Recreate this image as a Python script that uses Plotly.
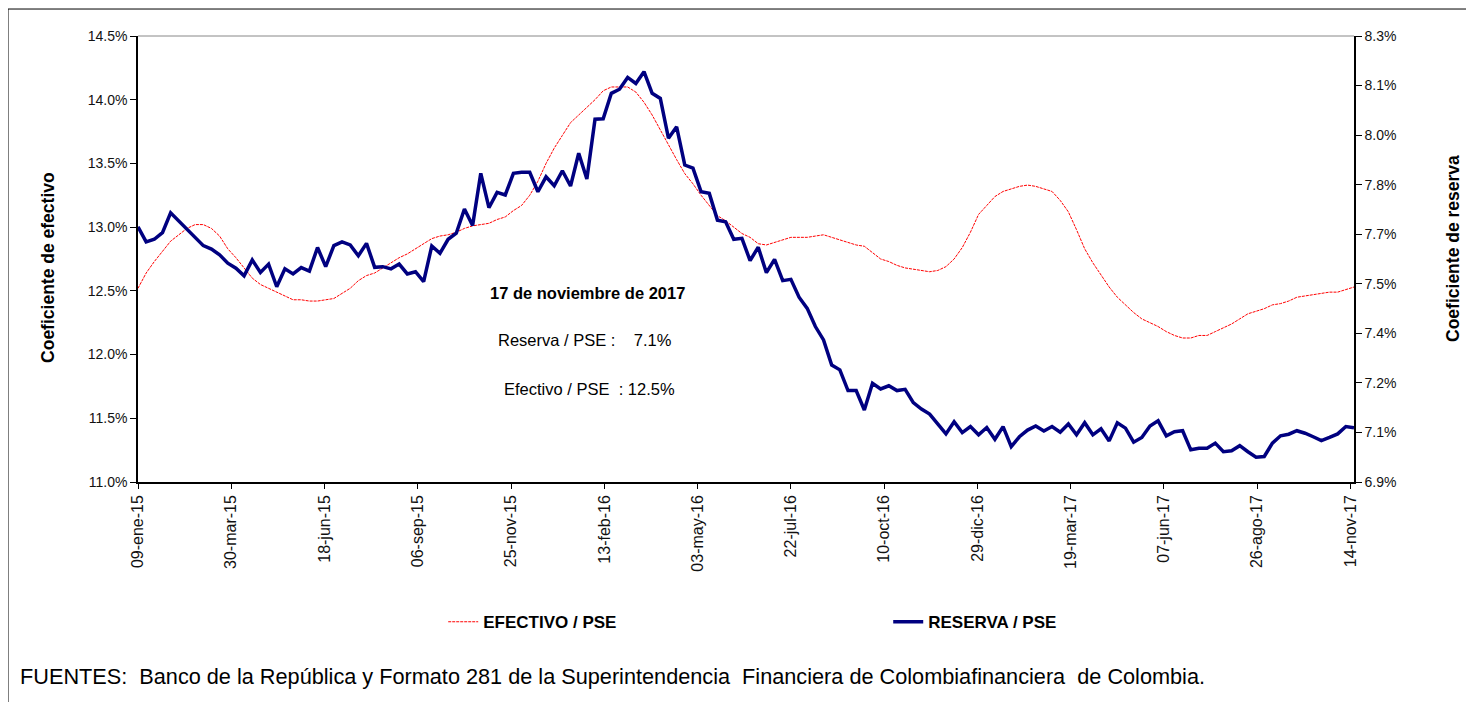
import plotly.graph_objects as go
import pandas as pd

# ---- data (weekly, from 09-ene-2015 to 17-nov-2017) ----
start_date = "2015-01-09"
n_weeks = 150

# Efectivo / PSE (%), left axis
efectivo = [
    12.52, 12.64, 12.73, 12.81, 12.89, 12.94, 12.99, 13.02, 13.02, 12.99,
    12.93, 12.83, 12.76, 12.68, 12.60, 12.55, 12.52, 12.49, 12.46, 12.43,
    12.43, 12.42, 12.42, 12.43, 12.44, 12.48, 12.52, 12.58, 12.62, 12.64,
    12.68, 12.72, 12.76, 12.79, 12.83, 12.87, 12.91, 12.93, 12.94, 12.96,
    12.99, 13.01, 13.02, 13.03, 13.06, 13.08, 13.13, 13.17, 13.25, 13.36,
    13.50, 13.62, 13.72, 13.82, 13.88, 13.94, 14.00, 14.07, 14.10, 14.10,
    14.10, 14.06, 13.98, 13.88, 13.76, 13.64, 13.53, 13.42, 13.34, 13.25,
    13.17, 13.09, 13.05, 13.00, 12.95, 12.92, 12.87, 12.86, 12.88, 12.90,
    12.92, 12.92, 12.92, 12.93, 12.94, 12.92, 12.90, 12.88, 12.86, 12.85,
    12.80, 12.75, 12.73, 12.70, 12.68, 12.67, 12.66, 12.65, 12.66, 12.69,
    12.75, 12.84, 12.96, 13.10, 13.17, 13.24, 13.28, 13.30, 13.32, 13.33,
    13.32, 13.30, 13.28, 13.21, 13.12, 12.98, 12.83, 12.72, 12.62, 12.53,
    12.45, 12.39, 12.33, 12.28, 12.25, 12.22, 12.18, 12.15, 12.13, 12.13,
    12.15, 12.15, 12.18, 12.21, 12.24, 12.28, 12.32, 12.34, 12.36, 12.39,
    12.40, 12.42, 12.45, 12.46, 12.47, 12.48, 12.49, 12.49, 12.51, 12.53,
]

# Reserva / PSE (%), right axis
reserva = [
    7.701, 7.654, 7.662, 7.683, 7.745, 7.719, 7.693, 7.665, 7.642, 7.631,
    7.613, 7.587, 7.571, 7.547, 7.597, 7.558, 7.584, 7.513, 7.569, 7.553,
    7.573, 7.562, 7.636, 7.576, 7.642, 7.654, 7.644, 7.610, 7.649, 7.574,
    7.576, 7.569, 7.584, 7.553, 7.560, 7.529, 7.641, 7.618, 7.662, 7.681,
    7.757, 7.705, 7.869, 7.761, 7.809, 7.801, 7.869, 7.872, 7.872, 7.811,
    7.858, 7.830, 7.877, 7.829, 7.932, 7.851, 8.039, 8.040, 8.120, 8.133,
    8.170, 8.151, 8.188, 8.120, 8.104, 7.979, 8.015, 7.895, 7.885, 7.811,
    7.806, 7.722, 7.717, 7.662, 7.665, 7.595, 7.637, 7.557, 7.599, 7.532,
    7.536, 7.480, 7.445, 7.388, 7.346, 7.267, 7.252, 7.187, 7.187, 7.126,
    7.210, 7.192, 7.202, 7.187, 7.191, 7.149, 7.129, 7.113, 7.082, 7.051,
    7.089, 7.055, 7.074, 7.048, 7.071, 7.034, 7.074, 7.011, 7.042, 7.063,
    7.076, 7.060, 7.074, 7.056, 7.082, 7.048, 7.086, 7.048, 7.067, 7.029,
    7.086, 7.069, 7.025, 7.040, 7.076, 7.092, 7.045, 7.058, 7.061, 7.001,
    7.006, 7.006, 7.022, 6.995, 6.998, 7.014, 6.995, 6.978, 6.980, 7.022,
    7.045, 7.050, 7.061, 7.053, 7.042, 7.030, 7.040, 7.051, 7.074, 7.070,
]

meses = ["ene", "feb", "mar", "abr", "may", "jun", "jul", "ago", "sep", "oct", "nov", "dic"]
left_ticks = [11.0, 11.5, 12.0, 12.5, 13.0, 13.5, 14.0, 14.5]
right_min, right_max, right_steps = 6.9, 8.3, 9

series_names = ["EFECTIVO / PSE", "RESERVA / PSE"]
note_lines = ["17 de noviembre de 2017", "Reserva / PSE :    7.1%", "Efectivo / PSE  : 12.5%"]
source_text = ("FUENTES:  Banco de la República y Formato 281 de la Superintendencia  "
               "Financiera de Colombiafinanciera  de Colombia.")

# ---- build ----
dates = pd.date_range(start_date, periods=n_weeks, freq="7D")
tick_dates = pd.date_range(start_date, "2017-11-14", freq="80D")
tick_text = [f"{d.day:02d}-{meses[d.month - 1]}-{d.strftime('%y')}" for d in tick_dates]
right_vals = [right_min + k * (right_max - right_min) / right_steps for k in range(right_steps + 1)]
right_text = [f"{v:.1f}%" for v in right_vals]

ARIAL = "Liberation Sans, Arial, sans-serif"

fig = go.Figure()
fig.add_trace(go.Scatter(
    x=dates, y=efectivo, name=series_names[0], mode="lines",
    line=dict(color="#FF0000", width=1, dash="3px,1px"), yaxis="y",
))
fig.add_trace(go.Scatter(
    x=dates, y=reserva, name=series_names[1], mode="lines",
    line=dict(color="#000080", width=3.5), yaxis="y2",
))

fig.update_layout(
    width=1466, height=694,
    margin=dict(l=130, r=120, t=28, b=220),
    paper_bgcolor="white", plot_bgcolor="white",
    font=dict(family=ARIAL, size=14, color="#111"),
    xaxis=dict(
        type="date", range=[dates[0], dates[-1]],
        tickvals=tick_dates, ticktext=tick_text, tickangle=-90,
        tickfont=dict(size=16, family=ARIAL),
        ticks="outside", ticklen=5, tickcolor="black",
        showline=True, linecolor="black", linewidth=1.5,
        showgrid=False, zeroline=False,
    ),
    yaxis=dict(
        range=[11.0, 14.5], tickvals=left_ticks,
        ticktext=[f"{v:.1f}%" for v in left_ticks],
        ticks="outside", ticklen=6, tickcolor="black",
        showline=True, linecolor="black", linewidth=1.5,
        showgrid=False, zeroline=False, tickfont=dict(size=14),
    ),
    yaxis2=dict(
        range=[right_min, right_max], overlaying="y", side="right",
        tickvals=right_vals, ticktext=right_text,
        ticks="outside", ticklen=6, tickcolor="black",
        showline=True, linecolor="black", linewidth=1.5,
        showgrid=False, zeroline=False, tickfont=dict(size=14),
    ),
    legend=dict(
        orientation="h", x=0.251, y=-0.274, xanchor="left", yanchor="top",
        entrywidth=400, entrywidthmode="pixels",
        font=dict(family=ARIAL, size=17, color="black", weight="bold"),
        bgcolor="rgba(0,0,0,0)", itemwidth=30,
    ),
    showlegend=True,
)

# frame and top plot line
fig.add_shape(type="line", xref="paper", yref="paper", x0=0, x1=1, y0=1, y1=1,
              line=dict(color="#888", width=1))
fig.add_shape(type="line", xref="paper", yref="paper", x0=-0.1069, x1=1.2, y0=1.0605, y1=1.0605,
              line=dict(color="black", width=1))
fig.add_shape(type="line", xref="paper", yref="paper", x0=-0.1069, x1=-0.1069, y0=1.0605, y1=-0.6,
              line=dict(color="black", width=1))

# axis titles
fig.add_annotation(text="<b>Coeficiente de efectivo</b>", xref="paper", yref="paper",
                   x=-0.074, y=0.48, xanchor="center", yanchor="middle",
                   textangle=-90, showarrow=False,
                   font=dict(size=17.5, family=ARIAL, color="black"))
fig.add_annotation(text="<b>Coeficiente de reserva</b>", xref="paper", yref="paper",
                   x=1.0814, y=0.5247, xanchor="center", yanchor="middle",
                   textangle=-90, showarrow=False,
                   font=dict(size=17.5, family=ARIAL, color="black"))

# note box
note_pos = [(0.370, 0.4238, True), (0.3676, 0.3184, False), (0.3709, 0.2085, False)]
for line_txt, (px, py, bold) in zip(note_lines, note_pos):
    t = line_txt.replace(" ", "\u00a0")
    fig.add_annotation(text=(f"<b>{t}</b>" if bold else t), xref="paper", yref="paper",
                       x=px, y=py, xanchor="center", yanchor="middle", showarrow=False,
                       font=dict(size=16.5, family=ARIAL, color="black"))

# source
fig.add_annotation(text=source_text.replace("  ", "\u00a0 "), xref="paper", yref="paper",
                   x=-0.0987, y=-0.437, xanchor="left", yanchor="middle", showarrow=False,
                   font=dict(size=21.7, family=ARIAL, color="black"))

fig.write_html("out.html")
